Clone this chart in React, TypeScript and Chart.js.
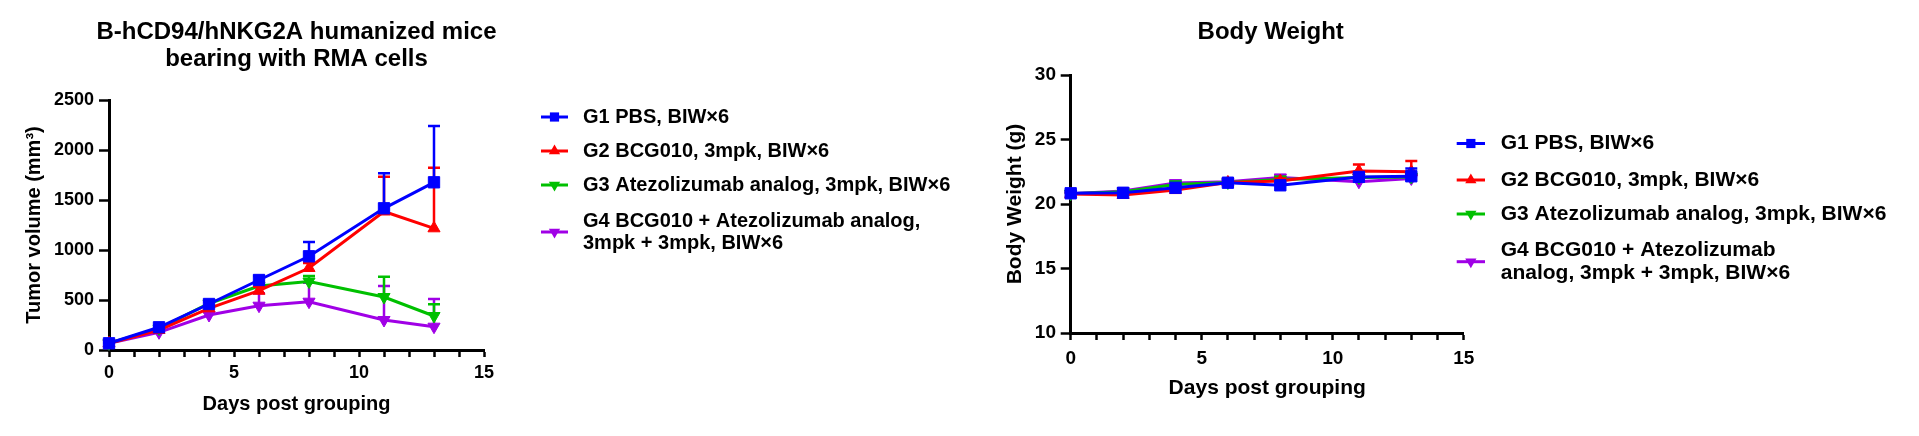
import React, { useEffect, useRef } from 'react';
import { Chart, registerables } from 'chart.js';
import { drawPoint } from 'chart.js/helpers';

Chart.register(...registerables);

const FONT = '"Liberation Sans", Arial, Helvetica, sans-serif';

// ---------- data ----------
const DAYS = [0, 2, 4, 6, 8, 11, 13];
const X_TICK_LABELS = [0, 5, 10, 15];

const LEGEND_TV = [
  ['G1 PBS, BIW×6'],
  ['G2 BCG010, 3mpk, BIW×6'],
  ['G3 Atezolizumab analog, 3mpk, BIW×6'],
  ['G4 BCG010 + Atezolizumab analog,', '3mpk + 3mpk, BIW×6'],
];
const LEGEND_BW = [
  ['G1 PBS, BIW×6'],
  ['G2 BCG010, 3mpk, BIW×6'],
  ['G3 Atezolizumab analog, 3mpk, BIW×6'],
  ['G4 BCG010 + Atezolizumab', 'analog, 3mpk + 3mpk, BIW×6'],
];

// Tumor volume (mm³), mean and SEM
const TV_G1 = [67, 227, 460, 700, 937, 1417, 1677];
const TV_G1_SEM = [8, 18, 28, 40, 143, 350, 563];
const TV_G2 = [67, 200, 417, 593, 820, 1385, 1217];
const TV_G2_SEM = [8, 15, 25, 40, 50, 348, 606];
const TV_G3 = [67, 215, 465, 640, 685, 530, 340];
const TV_G3_SEM = [8, 15, 30, 40, 55, 203, 117];
const TV_G4 = [67, 177, 350, 443, 483, 300, 233];
const TV_G4_SEM = [8, 15, 28, 125, 190, 340, 277];

// Body weight (g), mean and SEM
const BW_G1 = [20.83, 20.87, 21.26, 21.65, 21.45, 22.1, 22.15];
const BW_G1_SEM = [0.1, 0.1, 0.15, 0.15, 0.15, 0.3, 0.6];
const BW_G2 = [20.78, 20.7, 21.08, 21.67, 21.78, 22.55, 22.5];
const BW_G2_SEM = [0.1, 0.15, 0.15, 0.1, 0.2, 0.52, 0.83];
const BW_G3 = [20.8, 20.95, 21.52, 21.67, 21.9, 22.05, 22.1];
const BW_G3_SEM = [0.1, 0.1, 0.2, 0.1, 0.2, 0.2, 0.25];
const BW_G4 = [20.8, 21.0, 21.62, 21.72, 22.05, 21.72, 21.98];
const BW_G4_SEM = [0.1, 0.1, 0.15, 0.1, 0.2, 0.2, 0.2];

// ---------- styles ----------
const COLORS = ['#0000FF', '#FF0000', '#00C000', '#A000E6'];
const POINT_STYLES = ['rect', 'triangle', 'triangle', 'triangle'];
const POINT_ROTATIONS = [0, 0, 180, 180];
const POINT_RADII = [8, 7, 7, 7];

type Cfg = {
  width: number;
  values: number[][];
  errors: number[][];
  legend: string[][];
  yMin: number;
  yMax: number;
  yStep: number;
  yTitle: string;
  title: string[];
  titleY: number;
  titleGap: number;
  titleDx: number;
  area: { left: number; right: number; top: number; bottom: number };
  tickFont: number;
  axisFont: number;
  yTitlePad: number;
  xTitlePad: number;
  xTickPad: number;
  yTickPad: number;
  legendX0: number;
  legendX1: number;
  legendTextX: number;
  legendRows: number[];
  legendLineGap: number;
  legendFont: number;
};

function titlePlugin(cfg: Cfg) {
  return {
    id: 'panelTitle',
    afterDraw(chart: any) {
      const { ctx, chartArea } = chart;
      ctx.save();
      ctx.font = `bold 24px ${FONT}`;
      ctx.fillStyle = '#000';
      ctx.textAlign = 'center';
      ctx.textBaseline = 'middle';
      const cx = (chartArea.left + chartArea.right) / 2 + cfg.titleDx;
      cfg.title.forEach((t, i) => ctx.fillText(t, cx, cfg.titleY + i * cfg.titleGap));
      ctx.restore();
    },
  };
}

function errorBarPlugin(cfg: Cfg) {
  return {
    id: 'errorBars',
    beforeDatasetDraw(chart: any, args: any) {
      const i = args.index;
      const meta = chart.getDatasetMeta(i);
      const ys = chart.scales.y;
      const ctx = chart.ctx;
      ctx.save();
      ctx.strokeStyle = COLORS[i];
      ctx.lineWidth = 2.5;
      meta.data.forEach((pt: any, j: number) => {
        const top = ys.getPixelForValue(cfg.values[i][j] + cfg.errors[i][j]);
        ctx.beginPath();
        ctx.moveTo(pt.x, pt.y);
        ctx.lineTo(pt.x, top);
        ctx.moveTo(pt.x - 6, top);
        ctx.lineTo(pt.x + 6, top);
        ctx.stroke();
      });
      ctx.restore();
    },
  };
}

function legendPlugin(cfg: Cfg) {
  return {
    id: 'sideLegend',
    afterDraw(chart: any) {
      const ctx = chart.ctx;
      ctx.save();
      cfg.legend.forEach((lines, i) => {
        const y = cfg.legendRows[i];
        ctx.strokeStyle = COLORS[i];
        ctx.fillStyle = COLORS[i];
        ctx.lineWidth = 3;
        ctx.beginPath();
        ctx.moveTo(cfg.legendX0, y);
        ctx.lineTo(cfg.legendX1, y);
        ctx.stroke();
        drawPoint(
          ctx,
          {
            pointStyle: POINT_STYLES[i] as any,
            rotation: POINT_ROTATIONS[i],
            radius: 6.5,
            borderWidth: 0,
          },
          (cfg.legendX0 + cfg.legendX1) / 2,
          y
        );
        ctx.fillStyle = '#000';
        ctx.font = `bold ${cfg.legendFont}px ${FONT}`;
        ctx.textAlign = 'left';
        ctx.textBaseline = 'middle';
        const y0 = y - ((lines.length - 1) * cfg.legendLineGap) / 2;
        lines.forEach((t, k) => ctx.fillText(t, cfg.legendTextX, y0 + k * cfg.legendLineGap));
      });
      ctx.restore();
    },
  };
}

function build(canvas: HTMLCanvasElement, cfg: Cfg) {
  const H = 436;
  const datasets = cfg.values.map((vals, i) => ({
    label: cfg.legend[i].join(' '),
    data: DAYS.map((d, j) => ({ x: d, y: vals[j] })),
    borderColor: COLORS[i],
    backgroundColor: COLORS[i],
    pointBackgroundColor: COLORS[i],
    pointBorderColor: COLORS[i],
    borderWidth: 3,
    pointStyle: POINT_STYLES[i],
    pointRotation: POINT_ROTATIONS[i],
    pointRadius: POINT_RADII[i],
    pointBorderWidth: 1,
    tension: 0,
    clip: false as any,
  }));
  return new Chart(canvas, {
    type: 'line',
    data: { datasets },
    plugins: [titlePlugin(cfg), errorBarPlugin(cfg), legendPlugin(cfg)],
    options: {
      animation: false,
      responsive: false,
      events: [],
      layout: {
        padding: { left: 0, top: cfg.area.top, right: cfg.width - cfg.area.right, bottom: 0 },
      },
      plugins: { legend: { display: false }, title: { display: false }, tooltip: { enabled: false } },
      scales: {
        x: {
          type: 'linear',
          min: 0,
          max: 15,
          afterFit: (s: any) => {
            s.height = H - cfg.area.bottom;
          },
          ticks: {
            stepSize: 1,
            autoSkip: false,
            maxRotation: 0,
            padding: cfg.xTickPad,
            color: '#000',
            font: { size: cfg.tickFont, weight: 'bold', family: FONT },
            callback: (v: any) => (X_TICK_LABELS.includes(Number(v)) ? String(v) : ''),
          },
          grid: {
            display: true,
            drawOnChartArea: false,
            drawTicks: true,
            tickLength: 7,
            tickWidth: 2.5,
            tickColor: '#000',
          },
          border: { display: true, color: '#000', width: 3 },
          title: {
            display: true,
            text: 'Days post grouping',
            color: '#000',
            font: { size: cfg.axisFont, weight: 'bold', family: FONT, lineHeight: 1.2 },
            padding: { top: 0, bottom: cfg.xTitlePad },
          },
        },
        y: {
          type: 'linear',
          min: cfg.yMin,
          max: cfg.yMax,
          afterFit: (s: any) => {
            s.width = cfg.area.left;
          },
          ticks: {
            stepSize: cfg.yStep,
            padding: cfg.yTickPad,
            color: '#000',
            font: { size: cfg.tickFont, weight: 'bold', family: FONT },
            callback: (v: any) => String(v),
          },
          grid: {
            display: true,
            drawOnChartArea: false,
            drawTicks: true,
            tickLength: 10,
            tickWidth: 2.5,
            tickColor: '#000',
          },
          border: { display: true, color: '#000', width: 3 },
          title: {
            display: true,
            text: cfg.yTitle,
            color: '#000',
            font: { size: cfg.axisFont, weight: 'bold', family: FONT, lineHeight: 1.2 },
            padding: { top: cfg.yTitlePad, bottom: 0 },
          },
        },
      },
    } as any,
  });
}

const TV_CFG: Cfg = {
  width: 980,
  values: [TV_G1, TV_G2, TV_G3, TV_G4],
  errors: [TV_G1_SEM, TV_G2_SEM, TV_G3_SEM, TV_G4_SEM],
  legend: LEGEND_TV,
  yMin: 0,
  yMax: 2500,
  yStep: 500,
  yTitle: 'Tumor volume (mm³)',
  title: ['B-hCD94/hNKG2A humanized mice', 'bearing with RMA cells'],
  titleY: 32,
  titleGap: 27,
  titleDx: 0,
  area: { left: 109, right: 484, top: 100, bottom: 350 },
  tickFont: 18,
  axisFont: 20,
  yTitlePad: 22,
  xTitlePad: 19.5,
  xTickPad: 5.5,
  yTickPad: 5,
  legendX0: 541,
  legendX1: 568,
  legendTextX: 583,
  legendRows: [117, 151, 185, 232],
  legendLineGap: 22,
  legendFont: 20,
};

const BW_CFG: Cfg = {
  width: 939,
  values: [BW_G1, BW_G2, BW_G3, BW_G4],
  errors: [BW_G1_SEM, BW_G2_SEM, BW_G3_SEM, BW_G4_SEM],
  legend: LEGEND_BW,
  yMin: 10,
  yMax: 30,
  yStep: 5,
  yTitle: 'Body Weight (g)',
  title: ['Body Weight'],
  titleY: 32,
  titleGap: 27,
  titleDx: 3.5,
  area: { left: 90.7, right: 483.7, top: 75, bottom: 333 },
  tickFont: 19,
  axisFont: 21,
  yTitlePad: 22.4,
  xTitlePad: 34.9,
  xTickPad: 7.3,
  yTickPad: 4.7,
  legendX0: 476.7,
  legendX1: 505,
  legendTextX: 520.7,
  legendRows: [143.5, 180, 214, 261.7],
  legendLineGap: 23,
  legendFont: 21,
};

export default function App() {
  const c1 = useRef<HTMLCanvasElement>(null);
  const c2 = useRef<HTMLCanvasElement>(null);
  useEffect(() => {
    document.body.style.margin = '0';
    Chart.defaults.font.family = FONT;
    Chart.defaults.color = '#000';
    const a = build(c1.current!, TV_CFG);
    const b = build(c2.current!, BW_CFG);
    return () => {
      a.destroy();
      b.destroy();
    };
  }, []);
  return (
    <div style={{ position: 'relative', width: 1919, height: 436, background: '#fff' }}>
      <canvas ref={c1} width={980} height={436} style={{ position: 'absolute', left: 0, top: 0 }} />
      <canvas ref={c2} width={939} height={436} style={{ position: 'absolute', left: 980, top: 0 }} />
    </div>
  );
}
